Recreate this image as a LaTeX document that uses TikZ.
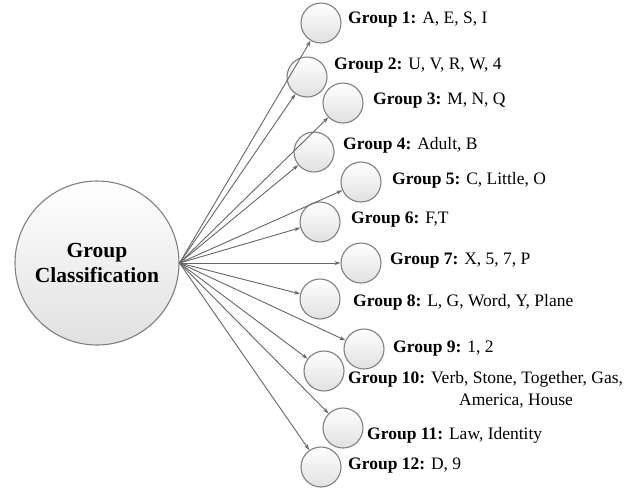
\documentclass[tikz,border=0pt]{standalone}
\usepackage{fontspec}
\setmainfont{Liberation Serif}
\newfontfamily\timesfont{Liberation Serif}
\usetikzlibrary{arrows.meta}
\definecolor{rim_gray}{HTML}{808080}
\definecolor{link_gray}{HTML}{666666}

\tikzset{
  bubble/.style={circle, draw=rim_gray, line width=1.1pt, top color=white,
    bottom color=black!12, minimum size=40pt, inner sep=0pt},
  link/.style={draw=link_gray, line width=0.9pt, -{Stealth[length=6pt,width=4pt]}},
  grouplabel/.style={anchor=west, inner sep=0pt, font=\timesfont\fontsize{17.5}{22}\selectfont}
}

\begin{document}
\begin{tikzpicture}[x=1pt,y=-1pt]
  \useasboundingbox (0,0) rectangle (639,488);

  % Main circle
  \node[bubble, minimum size=164pt, font=\timesfont\fontsize{21.5}{25}\selectfont\bfseries,
    align=center] (main) at (97,263) {Group\\Classification};
  \coordinate (hub) at (main.east);

  % Group circles
  \node[bubble] (g1) at (321,23) {};
  \node[bubble] (g2) at (307,77) {};
  \node[bubble] (g3) at (343,103) {};
  \node[bubble] (g4) at (314,152) {};
  \node[bubble] (g5) at (361,182) {};
  \node[bubble] (g6) at (320,222) {};
  \node[bubble] (g7) at (361,263) {};
  \node[bubble] (g8) at (320,299) {};
  \node[bubble] (g9) at (364,349) {};
  \node[bubble] (g10) at (324,371) {};
  \node[bubble] (g11) at (343,428) {};
  \node[bubble] (g12) at (321,467) {};

  % Arrows
  \foreach \g in {1,...,12}
    \draw[link] (hub) -- (g\g);

  % Labels
  \node[grouplabel] (t1) at (348,20) {\textbf{Group 1:} A, E, S, I};
  \node[grouplabel] (t2) at (334,66) {\textbf{Group 2:} U, V, R, W, 4};
  \node[grouplabel] (t3) at (373,101) {\textbf{Group 3:} M, N, Q};
  \node[grouplabel] (t4) at (343,145) {\textbf{Group 4:} Adult, B};
  \node[grouplabel] (t5) at (392,180) {\textbf{Group 5:} C, Little, O};
  \node[grouplabel] (t6) at (351,220) {\textbf{Group 6:} F,T};
  \node[grouplabel] (t7) at (390,261) {\textbf{Group 7:} X, 5, 7, P};
  \node[grouplabel] (t8) at (353,302) {\textbf{Group 8:} L, G, Word, Y, Plane};
  \node[grouplabel] (t9) at (393,349) {\textbf{Group 9:} 1, 2};
  \node[grouplabel, anchor=north west, align=left] (t10) at (348,371)
    {\textbf{Group 10:} Verb, Stone, Together, Gas,\\\hspace*{111pt}America, House};
  \node[grouplabel] (t11) at (367,435) {\textbf{Group 11:} Law, Identity};
  \node[grouplabel] (t12) at (348,466) {\textbf{Group 12:} D, 9};
\end{tikzpicture}
\end{document}
